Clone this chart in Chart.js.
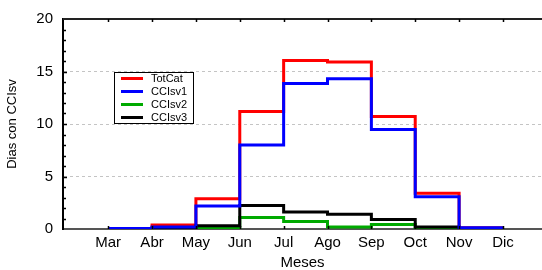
<!DOCTYPE html>
<html>
<head>
<meta charset="utf-8">
<script src="https://cdn.jsdelivr.net/npm/chart.js@4/dist/chart.umd.min.js"></script>
<style>
    html, body { margin: 0; padding: 0; background: #fff; overflow: hidden; }
    #wrap { position: relative; width: 542px; height: 270px; }
</style>
</head>
<body>
<div id="wrap"><canvas id="myChart"></canvas></div>
<script>
// months shown on the x axis (Mar = month 3)
const months = ['Mar', 'Abr', 'May', 'Jun', 'Jul', 'Ago', 'Sep', 'Oct', 'Nov', 'Dic'];
const firstMonth = 3;

const totCat = [0.05, 0.37, 2.87, 11.2, 16.05, 15.9, 10.72, 3.4, 0.12, 0.12];
const ccisv1 = [0.05, 0.2, 2.18, 8.0, 13.86, 14.3, 9.47, 3.08, 0.12, 0.12];
const ccisv2 = [0.05, 0.05, 0.1, 1.09, 0.72, 0.2, 0.44, 0.1, 0.02, 0.02];
const ccisv3 = [0.05, 0.1, 0.3, 2.24, 1.62, 1.4, 0.9, 0.2, 0.05, 0.05];

const yTicks = [0, 5, 10, 15, 20];

function toPoints(values) {
    return values.map((v, i) => ({ x: i + firstMonth, y: v }));
}

function makeSet(label, values, color, order) {
    return {
        label: label,
        data: toPoints(values),
        borderColor: color,
        backgroundColor: color,
        borderWidth: 3,
        pointRadius: 0,
        stepped: 'before',
        fill: false,
        order: order
    };
}

// tick marks pointing into the plot + top frame line
const frameTicks = {
    id: 'frameTicks',
    afterDraw(chart) {
        const ctx = chart.ctx;
        const a = chart.chartArea;
        const xs = chart.scales.x;
        const ys = chart.scales.y;
        ctx.save();
        ctx.strokeStyle = '#222';
        ctx.lineWidth = 2;
        ctx.beginPath();
        ctx.moveTo(a.left, a.top);
        ctx.lineTo(a.right, a.top);
        ctx.stroke();

        ctx.lineWidth = 1.5;
        ctx.strokeStyle = '#000';
        ctx.beginPath();
        months.forEach((m, i) => {
            const px = Math.round(xs.getPixelForValue(i + firstMonth)) + 0.5;
            ctx.moveTo(px, a.bottom);
            ctx.lineTo(px, a.bottom - 3);
            ctx.moveTo(px, a.top);
            ctx.lineTo(px, a.top + 3);
        });
        for (let v = 1; v < 20; v++) {
            const py = Math.round(ys.getPixelForValue(v)) + 0.5;
            ctx.moveTo(a.left, py);
            ctx.lineTo(a.left + (v % 5 === 0 ? 4 : 3), py);
        }
        ctx.stroke();
        ctx.restore();
    }
};

// boxed legend inside the plot
const boxLegend = {
    id: 'boxLegend',
    afterDraw(chart) {
        const ctx = chart.ctx;
        const left = 114, top = 72, w = 79, h = 51;
        ctx.save();
        ctx.fillStyle = '#fff';
        ctx.fillRect(left, top, w, h);
        ctx.strokeStyle = '#000';
        ctx.lineWidth = 1;
        ctx.strokeRect(left + 0.5, top + 0.5, w, h);
        ctx.font = '11px "Liberation Sans", Arial, sans-serif';
        ctx.textBaseline = 'middle';
        ctx.fillStyle = '#000';
        chart.data.datasets.forEach((ds, i) => {
            const y = top + 6.5 + i * 13;
            ctx.strokeStyle = ds.borderColor;
            ctx.lineWidth = 3;
            ctx.beginPath();
            ctx.moveTo(left + 7, y);
            ctx.lineTo(left + 29, y);
            ctx.stroke();
            ctx.fillText(ds.label, left + 37, y + 0.5);
        });
        ctx.restore();
    }
};

const ctx = document.getElementById('myChart').getContext('2d');
new Chart(ctx, {
    type: 'line',
    data: {
        datasets: [
            makeSet('TotCat', totCat, '#ff0000', 4),
            makeSet('CCIsv1', ccisv1, '#0000ff', 1),
            makeSet('CCIsv2', ccisv2, '#00aa00', 3),
            makeSet('CCIsv3', ccisv3, '#000000', 2)
        ]
    },
    options: {
        responsive: true,
        maintainAspectRatio: false,
        animation: false,
        layout: { padding: { top: 15, right: 0, left: 0, bottom: 0 } },
        plugins: {
            legend: { display: false },
            tooltip: { enabled: false }
        },
        scales: {
            x: {
                type: 'linear',
                min: 1.97,
                max: 12.89,
                afterBuildTicks: (scale) => {
                    scale.ticks = months.map((m, i) => ({ value: i + firstMonth }));
                },
                afterFit: (scale) => { scale.height = 41; },
                grid: { display: false, drawTicks: false },
                border: { display: true, color: '#555', width: 2 },
                ticks: {
                    autoSkip: false,
                    maxRotation: 0,
                    padding: 5,
                    color: '#000',
                    font: { family: '"Liberation Sans", Arial, sans-serif', size: 15 },
                    callback: function (value) {
                        return months[value - firstMonth] || '';
                    }
                },
                title: {
                    display: true,
                    text: 'Meses',
                    color: '#000',
                    font: { family: '"Liberation Sans", Arial, sans-serif', size: 15, lineHeight: 1 },
                    padding: { top: 0, bottom: 0 }
                }
            },
            y: {
                min: 0,
                max: 20,
                afterBuildTicks: (scale) => {
                    scale.ticks = yTicks.map(v => ({ value: v }));
                },
                afterFit: (scale) => { scale.width = 63; },
                grid: {
                    drawTicks: false,
                    lineWidth: 1,
                    color: (c) => (c.tick && (c.tick.value === 0 || c.tick.value === 20)) ? 'rgba(0,0,0,0)' : '#c4c4c4'
                },
                border: { display: true, color: '#000', width: 2, dash: [3, 3] },
                ticks: {
                    padding: 10,
                    color: '#000',
                    font: { family: '"Liberation Sans", Arial, sans-serif', size: 15 }
                },
                title: {
                    display: true,
                    text: 'Dias con CCIsv',
                    color: '#000',
                    font: { family: '"Liberation Sans", Arial, sans-serif', size: 13 },
                    padding: { top: 5, bottom: 0 }
                }
            }
        }
    },
    plugins: [frameTicks, boxLegend]
});
</script>
</body>
</html>
